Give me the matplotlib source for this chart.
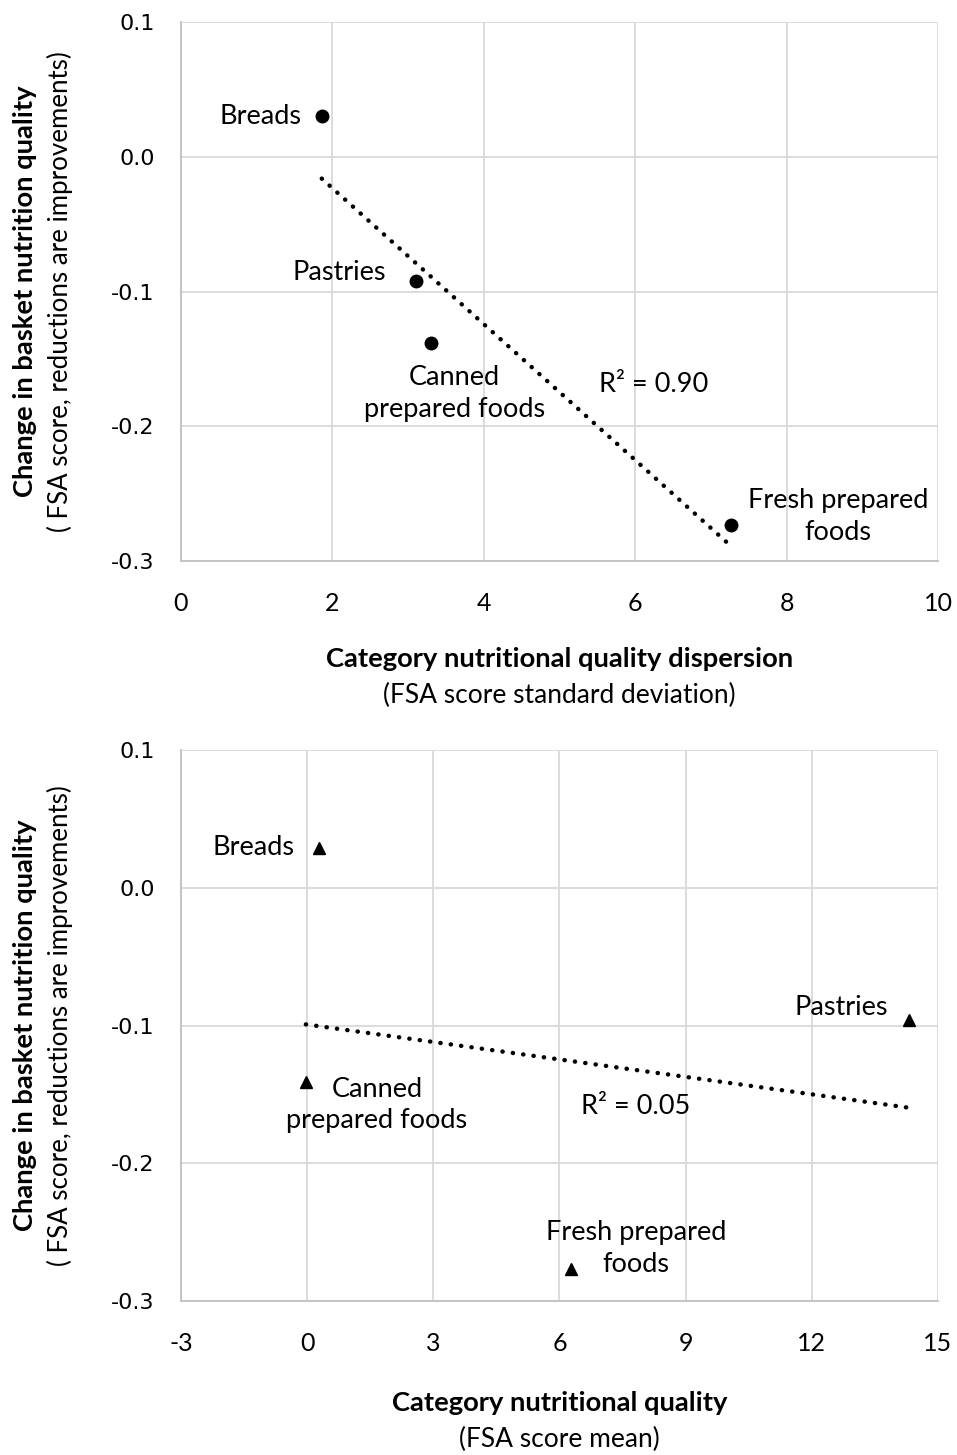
import matplotlib.pyplot as plt
import numpy as np

# Data
categories = ["Breads", "Pastries", "Canned\nprepared foods", "Fresh prepared\nfoods"]
change = [0.030, -0.092, -0.138, -0.273]  # top panel y
dispersion = [1.86, 3.10, 3.30, 7.27]  # top panel x

change_b = [0.029, -0.096, -0.141, -0.277]  # bottom panel y
mean_score = [0.28, 14.31, -0.03, 6.27]  # bottom panel x

r_squared = [0.90, 0.05]  # as printed on the chart

FONT = "Lato"
plt.rcParams["font.family"] = [FONT, "DejaVu Sans"]
FS = 19.5

fig = plt.figure(figsize=(9.57, 14.55), dpi=100)
ax1 = fig.add_axes([0.1891, 0.6144, 0.791, 0.3705])
ax2 = fig.add_axes([0.1891, 0.1058, 0.791, 0.3787])


def style(ax, xlim, xticks):
    yt = [-0.3, -0.2, -0.1, 0.0, 0.1]
    ax.set_xlim(*xlim)
    ax.set_ylim(-0.3, 0.1)
    ax.set_xticks(xticks)
    ax.set_yticks(yt)
    ax.set_yticklabels(["%.1f" % v for v in yt], family="DejaVu Sans", fontsize=16)
    ax.set_xticklabels([str(t) for t in xticks], fontsize=18)
    ax.tick_params(length=0)
    ax.tick_params(axis="y", pad=19)
    ax.tick_params(axis="x", pad=22)
    ax.grid(True, color="#d9d9d9", lw=1.3)
    ax.set_axisbelow(True)
    for s in ["top", "right"]:
        ax.spines[s].set_visible(False)
    for s in ["left", "bottom"]:
        ax.spines[s].set_color("#bfbfbf")
        ax.spines[s].set_linewidth(1.3)


def trend(ax, x, y):
    x = np.array(x)
    y = np.array(y)
    slope, icpt = np.polyfit(x, y, 1)
    xs = np.linspace(x.min(), x.max(), 50)
    ax.plot(xs, slope * xs + icpt, color="black", lw=3.2,
            linestyle=(0, (0.05, 2.3)), dash_capstyle="round")


def ylabel(ax):
    ax.text(-0.1955, 0.5, "Change in basket nutrition quality", transform=ax.transAxes,
            rotation=90, rotation_mode="anchor", ha="center", va="baseline",
            fontsize=19.7, fontweight="bold")
    ax.text(-0.1493, 0.5, "( FSA score, reductions are improvements)", transform=ax.transAxes,
            rotation=90, rotation_mode="anchor", ha="center", va="baseline", fontsize=18.6)


def labels(ax, xs, ys, offs):
    for name, x, y, (dx, dy, ha) in zip(categories, xs, ys, offs):
        ax.annotate(name, (x, y), xytext=(dx, dy), textcoords="offset pixels",
                    ha=ha, va="center", fontsize=FS, linespacing=1.33)


# Top panel
style(ax1, (0, 10), [0, 2, 4, 6, 8, 10])
trend(ax1, dispersion, change)
ax1.plot(dispersion, change, "o", color="black", ms=9)
labels(ax1, dispersion, change,
       [(-20, 0, "right"), (-76, 8, "center"), (24, -51, "center"), (107, 8, "center")])
ax1.text(6.25, -0.169, "R² = %.2f" % r_squared[0], ha="center", va="center", fontsize=FS)
ylabel(ax1)
ax1.text(0.5, -0.182, "Category nutritional quality dispersion", transform=ax1.transAxes,
         ha="center", va="center", fontsize=19.7, fontweight="bold")
ax1.text(0.5, -0.250, "(FSA score standard deviation)", transform=ax1.transAxes,
         ha="center", va="center", fontsize=19)

# Bottom panel
style(ax2, (-3, 15), [-3, 0, 3, 6, 9, 12, 15])
trend(ax2, mean_score, change_b)
ax2.plot(mean_score, change_b, "^", color="black", ms=8.5)
labels(ax2, mean_score, change_b,
       [(-24, 0, "right"), (-68, 13, "center"), (71, -23, "center"), (65, 21, "center")])
ax2.text(7.8, -0.159, "R² = %.2f" % r_squared[1], ha="center", va="center", fontsize=FS)
ylabel(ax2)
ax2.text(0.5, -0.185, "Category nutritional quality", transform=ax2.transAxes,
         ha="center", va="center", fontsize=19.7, fontweight="bold")
ax2.text(0.5, -0.252, "(FSA score mean)", transform=ax2.transAxes,
         ha="center", va="center", fontsize=19)

fig.savefig("out.png", dpi=100)
